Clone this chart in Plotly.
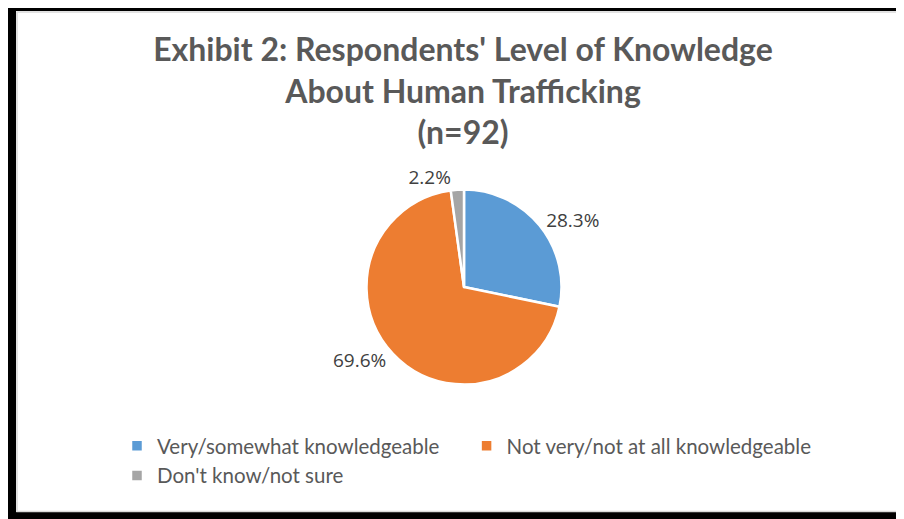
import plotly.graph_objects as go

labels = ['Very/somewhat knowledgeable', 'Not very/not at all knowledgeable', "Don't know/not sure"]
counts = [26, 64, 2]
colors = ['#5B9BD5', '#ED7D31', '#A5A5A5']

# the page body has an 8px margin, so the figure starts 8px in from the window corner
OFF = 8
W, H = 904 - OFF, 519 - OFF

def px(x):
    return (x - OFF) / W

def py(y):
    return 1 - (y - OFF) / H

fig = go.Figure()
fig.add_trace(go.Pie(
    labels=labels, values=counts, sort=False, direction='clockwise', rotation=0,
    marker=dict(colors=colors, line=dict(color='white', width=2.5)),
    texttemplate='%{percent:.1%}', textposition='outside',
    textfont=dict(family='Open Sans', size=19, color='#404040'),
    domain=dict(x=[px(366.5), px(561.5)], y=[py(384.5), py(189.5)]),
    hoverinfo='label+percent',
))

# outer black frame and thin grey chart-area border
fig.add_shape(type='rect', xref='paper', yref='paper',
              x0=px(12), x1=px(920), y0=py(516), y1=py(7),
              line=dict(color='black', width=8), layer='below')
fig.add_shape(type='rect', xref='paper', yref='paper',
              x0=px(17), x1=px(920), y0=py(511.5), y1=py(12),
              line=dict(color='#d9d9d9', width=1.5), layer='below')

fig.update_layout(
    width=W, height=H,
    margin=dict(l=0, r=0, t=0, b=0),
    paper_bgcolor='white', plot_bgcolor='white',
    title=dict(
        text="<b>Exhibit 2: Respondents' Level of Knowledge<br>About Human Trafficking<br>(n=92)</b>",
        x=px(463), xanchor='center', y=py(61), yanchor='top', yref='paper',
        font=dict(family='Lato', size=32, color='#595959'),
    ),
    legend=dict(
        orientation='h', x=px(117), xanchor='left', y=py(426), yanchor='top',
        itemwidth=30,
        font=dict(family='Lato', size=20.5, color='#595959'),
    ),
    showlegend=True,
)

fig.write_html("out.html")
